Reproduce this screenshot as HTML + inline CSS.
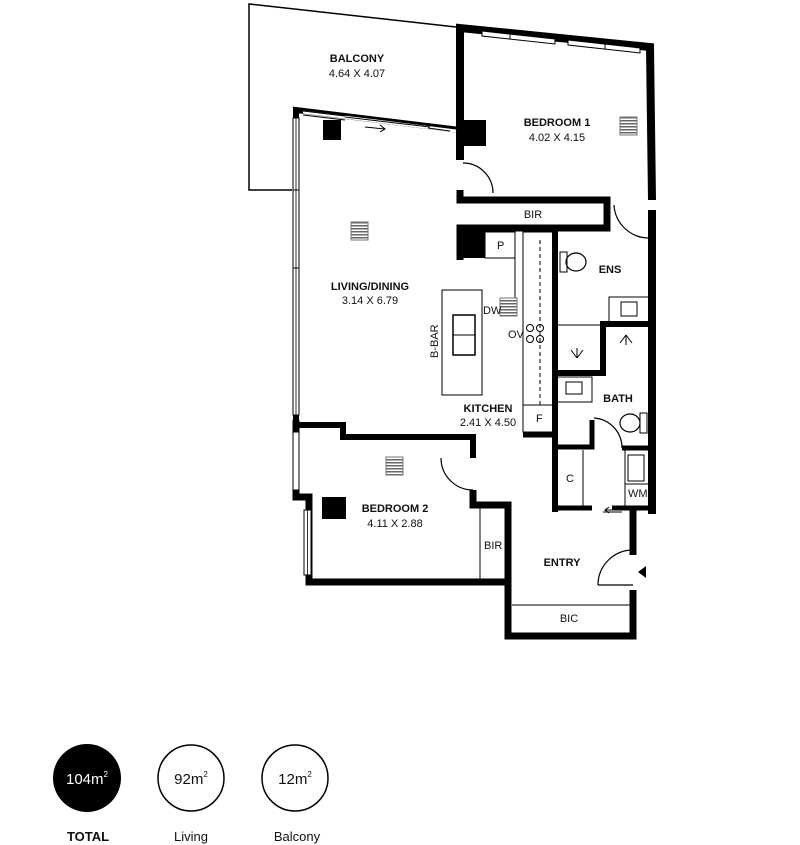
<!DOCTYPE html>
<html><head><meta charset="utf-8"><style>
html,body{margin:0;padding:0;background:#fff;}
svg{display:block;}
text{font-family:"Liberation Sans",sans-serif;fill:#111;}
.b{font-weight:bold;font-size:11px;}
.s{font-size:11px;}
</style></head><body>
<svg width="800" height="845" viewBox="0 0 800 845" xmlns="http://www.w3.org/2000/svg">
<defs>
<pattern id="st" width="4" height="3" patternUnits="userSpaceOnUse"><rect width="4" height="3" fill="#fff"/><rect width="4" height="1.5" fill="#666"/></pattern>
</defs>
<g fill="none" stroke="#000">
<polyline points="292,190 249,190 249,4 456,27" stroke-width="1.5"/>
<polyline points="460,160 460,28 650,47 652,200" stroke-width="8"/>
<line x1="652" y1="210" x2="652" y2="514" stroke-width="8"/>
<polyline points="296,420 296,110 460,130" stroke-width="6"/>
<!-- living top window -->
<line x1="303" y1="112" x2="456" y2="131" stroke="#fff" stroke-width="3"/>
<line x1="303" y1="111" x2="345" y2="116" stroke-width="1"/>
<line x1="303" y1="115" x2="345" y2="120" stroke-width="1"/>
<line x1="345" y1="117" x2="430" y2="127" stroke-width="1"/>
<line x1="428" y1="124" x2="450" y2="127" stroke-width="1"/>
<line x1="428" y1="128" x2="450" y2="131" stroke-width="1"/>
<!-- left window -->
<rect x="293" y="118" width="6" height="297" fill="#fff" stroke-width="1"/>
<line x1="296" y1="118" x2="296" y2="415" stroke-width="0.8"/>
<line x1="293" y1="190" x2="299" y2="190" stroke-width="1"/>
<line x1="293" y1="268" x2="299" y2="268" stroke-width="1"/>
<!-- bedroom1 top windows -->
<polygon points="482,31 555,39 555,44 482,36" fill="#fff" stroke-width="1"/>
<polygon points="568,40 640,48 640,53 568,45" fill="#fff" stroke-width="1"/>
<line x1="510" y1="34" x2="510" y2="39" stroke-width="1"/>
<line x1="605" y1="44" x2="605" y2="49" stroke-width="1"/>
<polyline points="460,190 460,200 607,200 607,228 460,228 460,260" stroke-width="7"/>
<path d="M463,163 A30,30 0 0 1 493,193" stroke-width="1.2"/>
<path d="M614,205 A35,35 0 0 0 648,238" stroke-width="1.2"/>
<line x1="555" y1="228" x2="555" y2="512" stroke-width="6"/>
<rect x="485" y="232" width="30" height="26" stroke-width="1"/>
<polyline points="515,232 515,300" stroke-width="1"/>
<line x1="540" y1="240" x2="540" y2="405" stroke-width="1" stroke-dasharray="4,3"/>
<rect x="523" y="232" width="30" height="200" stroke-width="1"/>
<line x1="523" y1="405" x2="553" y2="405" stroke-width="1"/>
<rect x="442" y="290" width="40" height="105" stroke-width="1"/>
<rect x="453" y="315" width="22" height="40" stroke-width="1.5"/>
<line x1="453" y1="335" x2="475" y2="335" stroke-width="1"/>
<circle cx="530" cy="328" r="3.5" stroke-width="1"/><circle cx="540" cy="328" r="3.5" stroke-width="1"/>
<circle cx="530" cy="339" r="3.5" stroke-width="1"/><circle cx="540" cy="339" r="3.5" stroke-width="1"/>
<line x1="523" y1="435" x2="555" y2="435" stroke-width="5"/>
<polyline points="557,373 603,373 603,324 650,324" stroke-width="6"/>
<line x1="557" y1="325" x2="600" y2="325" stroke-width="1"/>
<rect x="609" y="297" width="40" height="25" stroke-width="1"/>
<rect x="621" y="302" width="16" height="14" stroke-width="1"/>
<rect x="557" y="377" width="35" height="25" stroke-width="1"/>
<rect x="566" y="382" width="16" height="12" stroke-width="1"/>
<ellipse cx="576" cy="262" rx="10" ry="9" stroke-width="1.2"/>
<rect x="560" y="252" width="7" height="20" stroke-width="1"/>
<ellipse cx="630" cy="423" rx="10" ry="9" stroke-width="1.2"/>
<rect x="640" y="413" width="7" height="20" stroke-width="1"/>
<path d="M577,358 L577,348 M577,358 L571,350 M577,358 L583,350" stroke-width="1"/>
<path d="M626,345 L626,335 M626,335 L620,343 M626,335 L632,343" stroke-width="1"/>
<polyline points="557,447 592,447 592,420" stroke-width="5"/>
<path d="M594,418 A30,30 0 0 1 622,448" stroke-width="1.2"/>
<line x1="622" y1="448" x2="650" y2="448" stroke-width="5"/>
<rect x="628" y="455" width="16" height="26" stroke-width="1"/>
<line x1="625" y1="450" x2="625" y2="508" stroke-width="1"/>
<line x1="625" y1="484" x2="650" y2="484" stroke-width="1"/>
<line x1="583" y1="450" x2="583" y2="508" stroke-width="1"/>
<line x1="555" y1="508" x2="592" y2="508" stroke-width="5"/>
<line x1="612" y1="508" x2="650" y2="508" stroke-width="5"/>
<polyline points="296,425 343,425 343,437 473,437 473,458" stroke-width="6"/>
<path d="M441,458 A32,32 0 0 0 473,490" stroke-width="1.2"/>
<polyline points="473,490 473,505 508,505 508,636 633,636 633,590" stroke-width="7"/>
<polyline points="296,420 296,497 309,497 309,582 508,582" stroke-width="7"/>
<rect x="304" y="510" width="7" height="65" fill="#fff" stroke-width="1"/>
<line x1="307.5" y1="510" x2="307.5" y2="575" stroke-width="0.8"/>
<rect x="293" y="432" width="6" height="58" fill="#fff" stroke-width="1"/>
<line x1="480" y1="508" x2="480" y2="580" stroke-width="1"/>
<line x1="512" y1="605" x2="630" y2="605" stroke-width="1"/>
<line x1="633" y1="508" x2="633" y2="555" stroke-width="7"/>
<path d="M598,585 A35,35 0 0 1 633,550" stroke-width="1.2"/>
<line x1="598" y1="585" x2="633" y2="585" stroke-width="1.2"/>
<line x1="603" y1="512" x2="622" y2="512" stroke-width="1"/>
</g>
<g fill="#000">
<rect x="460" y="120" width="26" height="26"/>
<rect x="323" y="120" width="18" height="20"/>
<rect x="460" y="230" width="25" height="28"/>
<rect x="322" y="497" width="24" height="22"/>
<polygon points="646,566 646,578 638,572"/>
</g>
<g fill="url(#st)" stroke="#777" stroke-width="1">
<rect x="620" y="117" width="17" height="18"/>
<rect x="351" y="222" width="17" height="18"/>
<rect x="500" y="298" width="17" height="18"/>
<rect x="386" y="457" width="17" height="18"/>
</g>
<path d="M365,127 L385,129 M380,125 L385,129 L380,132" stroke="#000" fill="none"/>
<path d="M622,510 L605,510 M609,507 L605,510 L609,513" stroke="#000" fill="none"/>
<text class="b" x="357" y="62" text-anchor="middle">BALCONY</text>
<text class="s" x="357" y="77" text-anchor="middle">4.64 X 4.07</text>
<text class="b" x="557" y="126" text-anchor="middle">BEDROOM 1</text>
<text class="s" x="557" y="141" text-anchor="middle">4.02 X 4.15</text>
<text class="s" x="533" y="218" text-anchor="middle" font-size="10">BIR</text>
<text class="s" x="497" y="249" font-size="10">P</text>
<text class="b" x="610" y="273" text-anchor="middle">ENS</text>
<text class="b" x="370" y="290" text-anchor="middle">LIVING/DINING</text>
<text class="s" x="370" y="304" text-anchor="middle">3.14 X 6.79</text>
<text class="s" x="483" y="314" font-size="10">DW</text>
<text class="s" x="508" y="338" font-size="10">OV</text>
<text class="s" x="0" y="0" font-size="10" transform="translate(438,358) rotate(-90)">B-BAR</text>
<text class="b" x="618" y="402" text-anchor="middle">BATH</text>
<text class="b" x="488" y="412" text-anchor="middle">KITCHEN</text>
<text class="s" x="488" y="426" text-anchor="middle">2.41 X 4.50</text>
<text class="s" x="536" y="422" font-size="10">F</text>
<text class="s" x="566" y="482" font-size="10">C</text>
<text class="s" x="628" y="497" font-size="10">WM</text>
<text class="b" x="395" y="512" text-anchor="middle">BEDROOM 2</text>
<text class="s" x="395" y="527" text-anchor="middle">4.11 X 2.88</text>
<text class="s" x="484" y="549" font-size="10">BIR</text>
<text class="b" x="562" y="566" text-anchor="middle">ENTRY</text>
<text class="s" x="569" y="622" text-anchor="middle" font-size="10">BIC</text>
<circle cx="87" cy="778" r="34" fill="#000"/>
<circle cx="191" cy="778" r="33" fill="none" stroke="#000" stroke-width="1.5"/>
<circle cx="295" cy="778" r="33" fill="none" stroke="#000" stroke-width="1.5"/>
<text x="87" y="784" text-anchor="middle" font-size="15" style="fill:#fff">104m<tspan font-size="8" dy="-7">2</tspan></text>
<text x="191" y="784" text-anchor="middle" font-size="15">92m<tspan font-size="8" dy="-7">2</tspan></text>
<text x="295" y="784" text-anchor="middle" font-size="15">12m<tspan font-size="8" dy="-7">2</tspan></text>
<text x="88" y="841" text-anchor="middle" font-size="13" font-weight="bold">TOTAL</text>
<text x="191" y="841" text-anchor="middle" font-size="13">Living</text>
<text x="297" y="841" text-anchor="middle" font-size="13">Balcony</text>
</svg>
</body></html>
